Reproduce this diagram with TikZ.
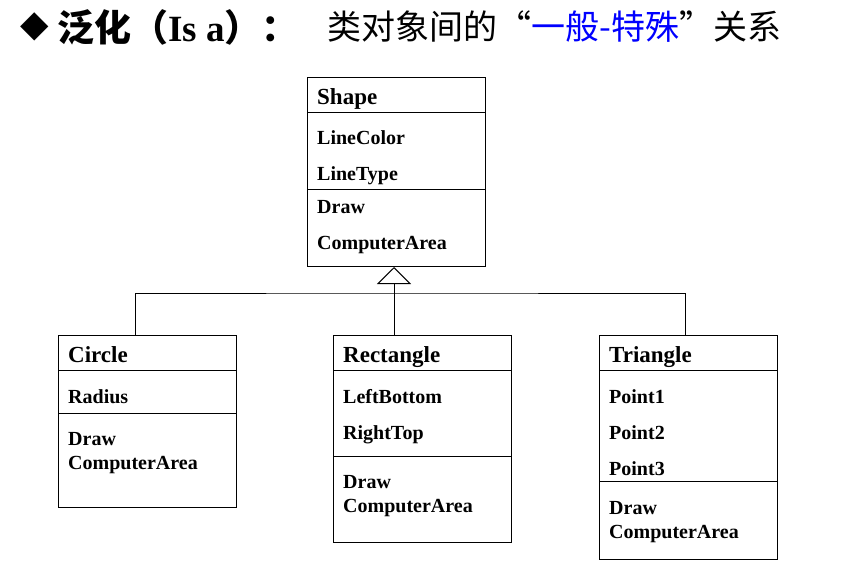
\documentclass[tikz,border=0pt]{standalone}
\usepackage{fontspec}
\setmainfont{Liberation Serif}
\newfontfamily\cjkfont{Noto Sans CJK SC}
\newfontfamily\symfont{DejaVu Sans}
\usetikzlibrary{arrows.meta, positioning, calc}
\definecolor{titleblue}{RGB}{0,0,255}
\tikzset{
  % UML class box (outline only)
  classbox/.style={
    rectangle, draw=black, line width=1pt, anchor=north west, inner sep=0pt
  },
  classname/.style={anchor=base west, inner sep=0pt, font=\fontsize{23}{25}\selectfont\bfseries},
  classitem/.style={anchor=base west, inner sep=0pt, font=\fontsize{20}{22}\selectfont\bfseries},
  divider/.style={line width=1pt},
  link/.style={line width=1pt},
  inherit/.style={-{Triangle[open, length=17pt, width=34pt]}, line width=1pt},
  titletext/.style={anchor=west, inner sep=0pt}
}

\begin{document}
\begin{tikzpicture}[x=1pt, y=-1pt]
  \useasboundingbox (0,0) rectangle (841,573);

  % Title
  \node[titletext, font=\symfont\fontsize{37}{37}\selectfont] (bullet) at (20,27) {◆};
  \node[titletext, font=\cjkfont\bfseries\fontsize{37}{37}\selectfont] (titlea) at (57,27)
    {泛化（{\rmfamily\bfseries Is a}）：};
  \node[titletext, font=\cjkfont\fontsize{34}{34}\selectfont] (titleb) at (327,27)
    {类对象间的“\textcolor{titleblue}{一般-特殊}”关系};

  % Superclass
  \node[classbox, minimum width=178pt, minimum height=189pt] (shapebox) at (307,77) {};
  \draw[divider] ($(shapebox.north west)+(0,35)$) -- ($(shapebox.north east)+(0,35)$);
  \draw[divider] ($(shapebox.north west)+(0,112)$) -- ($(shapebox.north east)+(0,112)$);
  \node[classname] (shapename) at ($(shapebox.north west)+(10,27)$) {Shape};
  \node[classitem] (shapeattra) at ($(shapebox.north west)+(10,67)$) {LineColor};
  \node[classitem] (shapeattrb) at ($(shapebox.north west)+(10,103)$) {LineType};
  \node[classitem] (shapeopa) at ($(shapebox.north west)+(10,136)$) {Draw};
  \node[classitem] (shapeopb) at ($(shapebox.north west)+(10,172)$) {ComputerArea};

  % Circle
  \node[classbox, minimum width=178pt, minimum height=172pt] (circlebox) at (58,335) {};
  \draw[divider] ($(circlebox.north west)+(0,35)$) -- ($(circlebox.north east)+(0,35)$);
  \draw[divider] ($(circlebox.north west)+(0,78)$) -- ($(circlebox.north east)+(0,78)$);
  \node[classname] (circlename) at ($(circlebox.north west)+(10,27)$) {Circle};
  \node[classitem] (circleattra) at ($(circlebox.north west)+(10,68)$) {Radius};
  \node[classitem] (circleopa) at ($(circlebox.north west)+(10,110)$) {Draw};
  \node[classitem] (circleopb) at ($(circlebox.north west)+(10,134)$) {ComputerArea};

  % Rectangle
  \node[classbox, minimum width=178pt, minimum height=207pt] (rectbox) at (333,335) {};
  \draw[divider] ($(rectbox.north west)+(0,35)$) -- ($(rectbox.north east)+(0,35)$);
  \draw[divider] ($(rectbox.north west)+(0,121)$) -- ($(rectbox.north east)+(0,121)$);
  \node[classname] (rectname) at ($(rectbox.north west)+(10,27)$) {Rectangle};
  \node[classitem] (rectattra) at ($(rectbox.north west)+(10,68)$) {LeftBottom};
  \node[classitem] (rectattrb) at ($(rectbox.north west)+(10,104)$) {RightTop};
  \node[classitem] (rectopa) at ($(rectbox.north west)+(10,153)$) {Draw};
  \node[classitem] (rectopb) at ($(rectbox.north west)+(10,177)$) {ComputerArea};

  % Triangle
  \node[classbox, minimum width=178pt, minimum height=224pt] (tribox) at (599,335) {};
  \draw[divider] ($(tribox.north west)+(0,35)$) -- ($(tribox.north east)+(0,35)$);
  \draw[divider] ($(tribox.north west)+(0,146)$) -- ($(tribox.north east)+(0,146)$);
  \node[classname] (triname) at ($(tribox.north west)+(10,27)$) {Triangle};
  \node[classitem] (triattra) at ($(tribox.north west)+(10,68)$) {Point1};
  \node[classitem] (triattrb) at ($(tribox.north west)+(10,104)$) {Point2};
  \node[classitem] (triattrc) at ($(tribox.north west)+(10,140)$) {Point3};
  \node[classitem] (triopa) at ($(tribox.north west)+(10,179)$) {Draw};
  \node[classitem] (triopb) at ($(tribox.north west)+(10,203)$) {ComputerArea};

  % Generalization
  \coordinate (junction) at (394,293);
  \draw[inherit] (junction) -- (junction |- shapebox.south);
  \draw[link] ([xshift=77pt]circlebox.north west) |- (junction) -| ([xshift=86pt]tribox.north west);
  \draw[link] ([xshift=61pt]rectbox.north west) -- (junction);
\end{tikzpicture}
\end{document}
